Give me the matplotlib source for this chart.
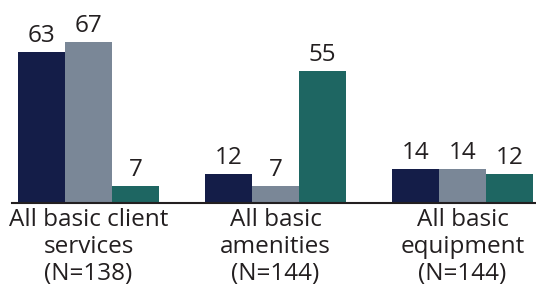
import matplotlib
matplotlib.use("Agg")
import matplotlib.pyplot as plt
import numpy as np

categories = ["All basic client\nservices\n(N=138)", "All basic\namenities\n(N=144)", "All basic\nequipment\n(N=144)"]
series1 = [63, 12, 14]
series2 = [67, 7, 14]
series3 = [7, 55, 12]
colors = ["#141d48", "#7a8797", "#1e6662"]

plt.rcParams['font.family'] = ['Open Sans', 'DejaVu Sans']
W, H = 536, 287
fig = plt.figure(figsize=(W/100, H/100), dpi=100)
ax = fig.add_axes([12/W, (H-203)/H, 1-12/W, 203/H])

spacing = 187.0
w = 47/spacing
x = np.arange(len(categories))
txtc = "#231f20"
for i, (vals, c) in enumerate(zip([series1, series2, series3], colors)):
    pos = x + (i-1)*w
    ax.bar(pos, vals, width=w, color=c, zorder=2)
    for p, v in zip(pos, vals):
        ax.annotate(str(v), (p, v), xytext=(0, 4), textcoords='offset pixels',
                    ha='center', va='bottom', fontsize=17.5, color=txtc)

ax.set_xlim(-(88.5-12)/spacing, 2 + (536-88.5-374)/spacing)
ax.set_ylim(0, 203/2.403)
for s in ['top', 'right', 'left']:
    ax.spines[s].set_visible(False)
ax.spines['bottom'].set_color('#231f20')
ax.spines['bottom'].set_linewidth(1.5)
ax.set_yticks([])
ax.set_xticks([])
for xi, lab in zip(x, categories):
    ax.annotate(lab, (xi, 0), xytext=(0, -5), textcoords='offset pixels',
                ha='center', va='top', fontsize=17.5, color=txtc, linespacing=1.16,
                annotation_clip=False)

fig.savefig("out.png", dpi=100)
